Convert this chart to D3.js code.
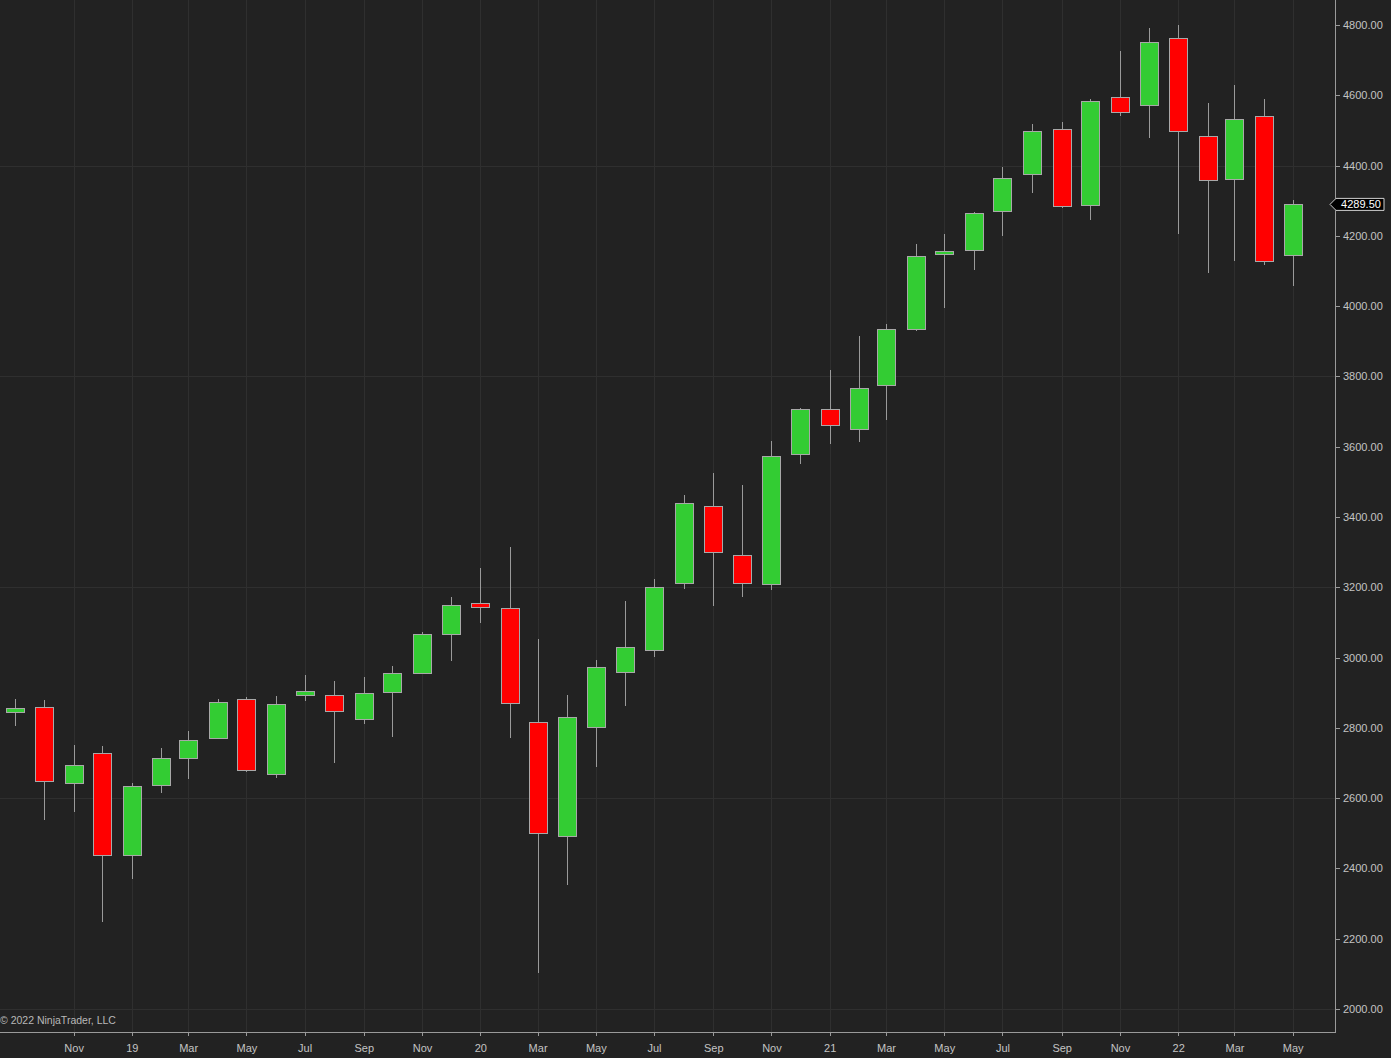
<!DOCTYPE html>
<html>
<head>
<meta charset="utf-8">
<script src="https://cdn.jsdelivr.net/npm/d3@7"></script>
<style>
  html, body { margin: 0; padding: 0; background: #222222; }
  svg { display: block; }
  text { font-family: Arial, "Liberation Sans", sans-serif; }
</style>
</head>
<body>
<svg id="chart" width="1391" height="1058"></svg>
<script>
// ---- Data (monthly OHLC, Sep 2018 – May 2022) ----
const months = ["2018-09","2018-10","2018-11","2018-12","2019-01","2019-02","2019-03","2019-04","2019-05","2019-06","2019-07","2019-08","2019-09","2019-10","2019-11","2019-12","2020-01","2020-02","2020-03","2020-04","2020-05","2020-06","2020-07","2020-08","2020-09","2020-10","2020-11","2020-12","2021-01","2021-02","2021-03","2021-04","2021-05","2021-06","2021-07","2021-08","2021-09","2021-10","2021-11","2021-12","2022-01","2022-02","2022-03","2022-04","2022-05"];
const opens  = [2846,2858,2642,2729,2440,2639,2716,2772,2881,2668,2893,2893,2826,2903,2955,3068,3154,3140,2817,2492,2802,2959,3024,3211,3432,3293,3208,3579,3707,3650,3776,3935,4149,4160,4272,4374,4503,4288,4594,4574,4763,4485,4361,4542,4143];
const highs  = [2882,2879,2751,2748,2642,2742,2791,2882,2887,2891,2950,2934,2946,2976,3074,3172,3255,3314,3052,2894,2993,3160,3224,3463,3526,3490,3616,3710,3818,3915,3948,4177,4205,4269,4397,4518,4525,4589,4725,4791,4800,4577,4629,4589,4302];
const lows   = [2806,2538,2560,2248,2369,2614,2654,2770,2675,2656,2877,2699,2810,2775,2952,2990,3099,2772,2103,2353,2690,2862,3001,3194,3148,3173,3192,3552,3609,3613,3676,3930,3996,4103,4200,4323,4280,4245,4542,4478,4206,4094,4129,4117,4057];
const closes = [2856,2647,2694,2438,2635,2715,2766,2874,2679,2868,2904,2847,2900,2957,3066,3150,3143,2870,2500,2831,2972,3029,3202,3439,3302,3213,3573,3707,3661,3767,3935,4143,4158,4265,4365,4497,4283,4584,4552,4752,4497,4361,4532,4128,4289.5];
const yTickValues = [2000,2200,2400,2600,2800,3000,3200,3400,3600,3800,4000,4200,4400,4600,4800];
const yGridValues = [2000,2600,3200,3800,4400];
const lastPrice = 4289.50;
const copyright = "© 2022 NinjaTrader, LLC";

// ---- Layout ----
const plotRight = 1335, plotBottom = 1032;
const svg = d3.select("#chart");

const parse = d3.timeParse("%Y-%m");
const dates = months.map(parse);

const x = d3.scaleTime()
  .domain([new Date(2018, 10, 1), new Date(2022, 4, 1)])
  .range([73.6, 1292.7]);
const y = d3.scaleLinear().domain([2000, 4800]).range([1009, 25]);

const xTicks = d3.timeMonth.every(2).range(new Date(2018, 10, 1), new Date(2022, 5, 1));

// background
svg.append("rect").attr("width", 1391).attr("height", 1058).attr("fill", "#222222");

// grid
const grid = svg.append("g").attr("shape-rendering", "crispEdges");
grid.selectAll("line.v").data(xTicks).join("line")
  .attr("x1", d => Math.round(x(d)) + 0.5).attr("x2", d => Math.round(x(d)) + 0.5)
  .attr("y1", 0).attr("y2", plotBottom)
  .attr("stroke", "#2f2f2f");
grid.selectAll("line.h").data(yGridValues).join("line")
  .attr("x1", 0).attr("x2", plotRight)
  .attr("y1", d => Math.round(y(d)) + 0.5).attr("y2", d => Math.round(y(d)) + 0.5)
  .attr("stroke", "#2f2f2f");

// copyright
svg.append("text").attr("x", 0).attr("y", 1024)
  .attr("fill", "#b8b8b8").attr("font-size", 10.5).text(copyright);

// candles
const bars = dates.map((d, i) => ({ d, o: opens[i], h: highs[i], l: lows[i], c: closes[i] }));
const cg = svg.append("g").attr("shape-rendering", "crispEdges");
const candle = cg.selectAll("g").data(bars).join("g");
candle.append("line")
  .attr("x1", b => Math.round(x(b.d)) + 0.5).attr("x2", b => Math.round(x(b.d)) + 0.5)
  .attr("y1", b => y(b.h)).attr("y2", b => y(b.l))
  .attr("stroke", "#9a9a9a").attr("stroke-width", 1);
candle.append("rect")
  .attr("x", b => Math.round(x(b.d)) - 9 + 0.5)
  .attr("width", 18)
  .attr("y", b => Math.round(y(Math.max(b.o, b.c))) + 0.5)
  .attr("height", b => Math.max(3, Math.round(Math.abs(y(b.o) - y(b.c)))))
  .attr("fill", b => b.c >= b.o ? "#33cc33" : "#ff0000")
  .attr("stroke", "#a8a8a8").attr("stroke-width", 1);

// y axis
const yAxis = svg.append("g").attr("transform", `translate(${plotRight},0)`)
  .call(d3.axisRight(y).tickValues(yTickValues).tickFormat(d3.format(".2f"))
    .tickSize(5).tickPadding(3).tickSizeOuter(0));
yAxis.select(".domain").remove();
yAxis.selectAll("line").attr("stroke", "#9a9a9a").attr("shape-rendering", "crispEdges");
yAxis.selectAll("text").attr("fill", "#c4c4c4").attr("font-size", 11)
  .attr("font-family", "Arial, 'Liberation Sans', sans-serif");

// x axis
const monthFmt = d3.timeFormat("%b"), yearFmt = d3.timeFormat("%y");
const xAxis = svg.append("g").attr("transform", `translate(0,${plotBottom})`)
  .call(d3.axisBottom(x).tickValues(xTicks)
    .tickFormat(d => d.getMonth() === 0 ? yearFmt(d) : monthFmt(d))
    .tickSize(4).tickPadding(8).tickSizeOuter(0));
xAxis.select(".domain").remove();
xAxis.selectAll("line").attr("stroke", "#9a9a9a").attr("shape-rendering", "crispEdges");
xAxis.selectAll("text").attr("fill", "#c4c4c4").attr("font-size", 11)
  .attr("font-family", "Arial, 'Liberation Sans', sans-serif");

// axis lines
svg.append("line").attr("x1", 0).attr("x2", plotRight + 0.5)
  .attr("y1", plotBottom + 0.5).attr("y2", plotBottom + 0.5)
  .attr("stroke", "#9a9a9a").attr("shape-rendering", "crispEdges");
svg.append("line").attr("x1", plotRight + 0.5).attr("x2", plotRight + 0.5)
  .attr("y1", 0).attr("y2", plotBottom + 0.5)
  .attr("stroke", "#9a9a9a").attr("shape-rendering", "crispEdges");

// last price marker
const py = y(lastPrice);
const mk = svg.append("g");
mk.append("path")
  .attr("d", `M${plotRight - 5},${py} L${plotRight + 1},${py - 6} L${plotRight + 49},${py - 6} L${plotRight + 49},${py + 6} L${plotRight + 1},${py + 6} Z`)
  .attr("fill", "#000000").attr("stroke", "#cfcfcf").attr("stroke-width", 1);
mk.append("text").attr("x", plotRight + 26).attr("y", py).attr("dy", "0.35em")
  .attr("text-anchor", "middle").attr("fill", "#ffffff").attr("font-size", 11)
  .text(d3.format(".2f")(lastPrice));
</script>
</body>
</html>
